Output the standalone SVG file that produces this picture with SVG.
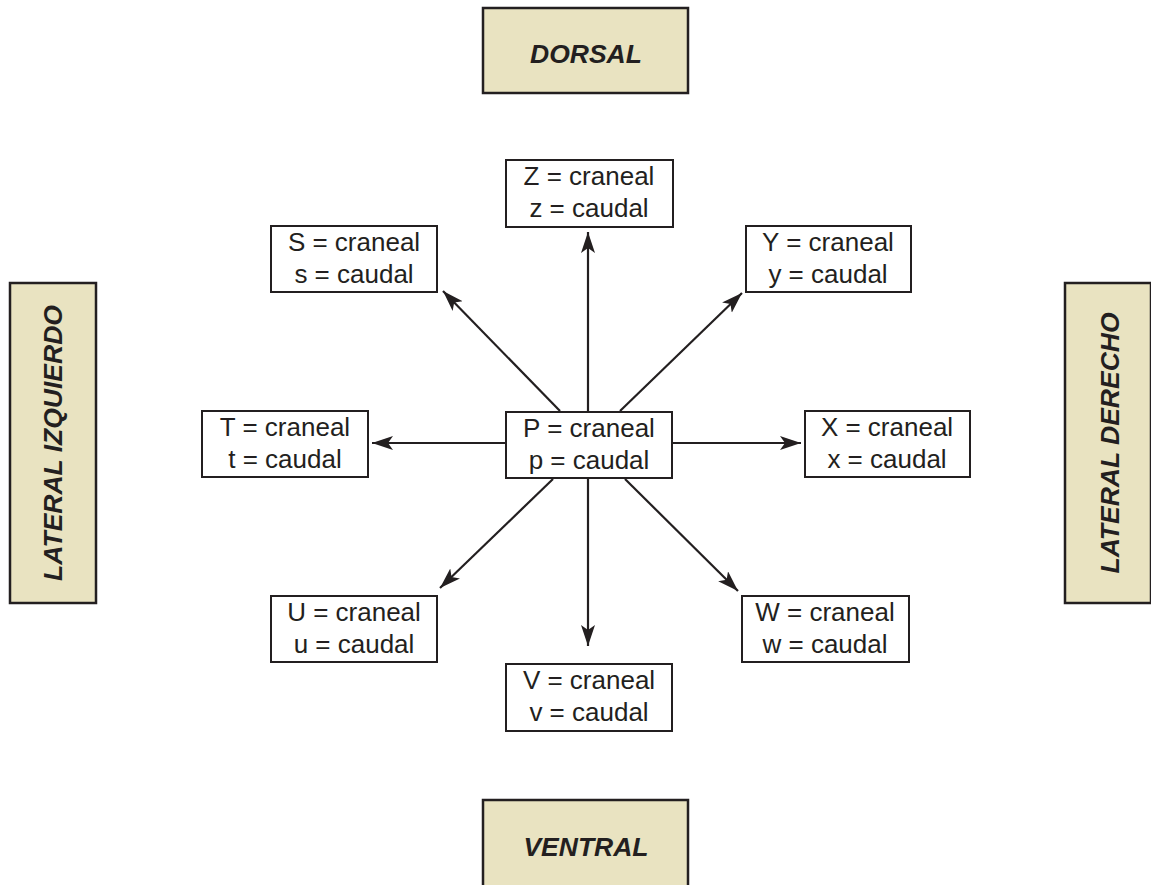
<svg xmlns="http://www.w3.org/2000/svg" width="1151" height="885" viewBox="0 0 1151 885">
<style>
.side{fill:#e9e3c1;stroke:#231f20;stroke-width:2.5}
.lbl{font-family:"Liberation Sans",Arial,sans-serif;font-weight:bold;font-style:italic;font-size:26.5px;fill:#231f20;text-anchor:middle}
.box{fill:#fff;stroke:#231f20;stroke-width:2}
.t{font-family:"Liberation Sans",Arial,sans-serif;font-size:26px;fill:#231f20;text-anchor:middle}
.c{stroke:#231f20;stroke-width:2.2;fill:none;marker-end:url(#ah)}
</style>
<defs>
<marker id="ah" markerWidth="24" markerHeight="16" refX="21" refY="7" orient="auto" markerUnits="userSpaceOnUse">
<path d="M0,0 L21,7 L0,14 L5,7 Z" fill="#231f20"/>
</marker>
</defs>
<rect width="1151" height="885" fill="#fff"/>
<g id="connectors">
<line class="c" x1="588" y1="411" x2="588" y2="232"/>
<line class="c" x1="588" y1="478" x2="588" y2="646"/>
<line class="c" x1="506" y1="443" x2="372" y2="443"/>
<line class="c" x1="672" y1="443" x2="801" y2="443"/>
<line class="c" x1="560" y1="411" x2="443" y2="291"/>
<line class="c" x1="620" y1="411" x2="742" y2="293"/>
<line class="c" x1="553" y1="479" x2="440" y2="588"/>
<line class="c" x1="625" y1="479" x2="738" y2="591"/>
</g>
<g id="dorsal"><rect class="side" x="483" y="8" width="205" height="85"/><text class="lbl" x="586" y="63">DORSAL</text></g>
<g id="ventral"><rect class="side" x="483" y="800" width="205" height="90"/><text class="lbl" x="586" y="856">VENTRAL</text></g>
<g id="lateral-izquierdo"><rect class="side" x="10" y="283" width="86" height="320"/><text class="lbl" transform="translate(62,443) rotate(-90)">LATERAL IZQUIERDO</text></g>
<g id="lateral-derecho"><rect class="side" x="1065" y="283" width="86" height="320"/><text class="lbl" transform="translate(1119,443) rotate(-90)">LATERAL DERECHO</text></g>
<g id="P"><rect class="box" x="506" y="412" width="166" height="66"/><text class="t" x="589" y="437">P = craneal</text><text class="t" x="589" y="469">p = caudal</text></g>
<g id="Z"><rect class="box" x="506" y="160" width="167" height="67"/><text class="t" x="589" y="185">Z = craneal</text><text class="t" x="589" y="217">z = caudal</text></g>
<g id="S"><rect class="box" x="271" y="226" width="166" height="66"/><text class="t" x="354" y="251">S = craneal</text><text class="t" x="354" y="283">s = caudal</text></g>
<g id="Y"><rect class="box" x="746" y="226" width="165" height="66"/><text class="t" x="828" y="251">Y = craneal</text><text class="t" x="828" y="283">y = caudal</text></g>
<g id="T"><rect class="box" x="202" y="411" width="166" height="66"/><text class="t" x="285" y="436">T = craneal</text><text class="t" x="285" y="468">t = caudal</text></g>
<g id="X"><rect class="box" x="805" y="411" width="165" height="66"/><text class="t" x="887" y="436">X = craneal</text><text class="t" x="887" y="468">x = caudal</text></g>
<g id="U"><rect class="box" x="271" y="596" width="166" height="66"/><text class="t" x="354" y="621">U = craneal</text><text class="t" x="354" y="653">u = caudal</text></g>
<g id="V"><rect class="box" x="506" y="664" width="166" height="67"/><text class="t" x="589" y="689">V = craneal</text><text class="t" x="589" y="721">v = caudal</text></g>
<g id="W"><rect class="box" x="742" y="596" width="167" height="66"/><text class="t" x="825" y="621">W = craneal</text><text class="t" x="825" y="653">w = caudal</text></g>
</svg>
